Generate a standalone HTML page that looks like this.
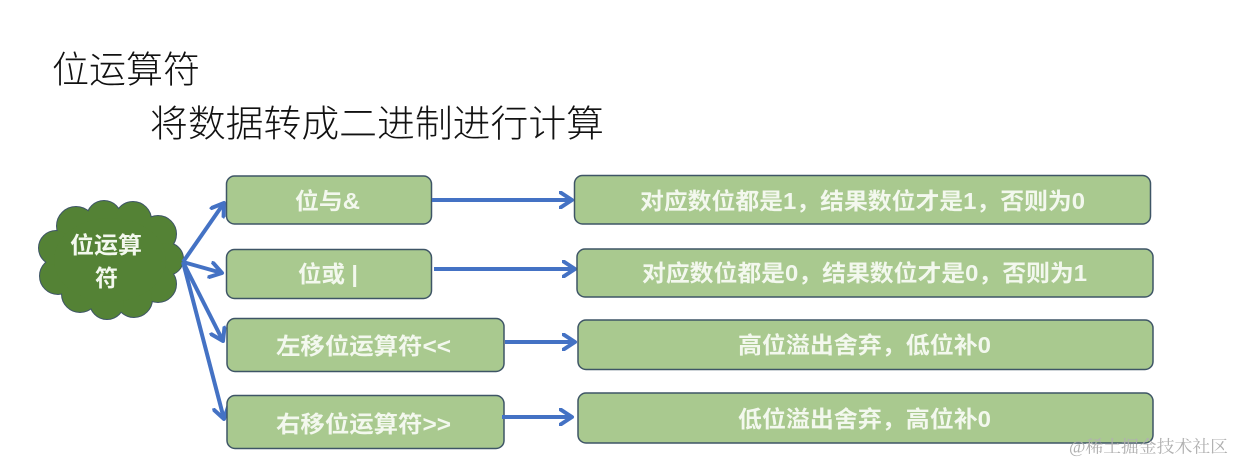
<!DOCTYPE html>
<html>
<head>
<meta charset="utf-8">
<style>
  html,body{margin:0;padding:0;background:#fff;}
  body{width:1235px;height:463px;overflow:hidden;}
  svg{display:block;}
  .t{font-family:"Liberation Sans","Noto Sans CJK SC",sans-serif;}
  .bx{fill:#A9C98F;stroke:#3E5566;stroke-width:1.5;}
  .bt{font-family:"Liberation Sans","Noto Sans CJK SC",sans-serif;font-size:23px;font-weight:bold;fill:#F3F8EE;dominant-baseline:central;}
  .ar{stroke:#4472C4;stroke-width:4;fill:none;}
</style>
</head>
<body>
<svg width="1235" height="463" viewBox="0 0 1235 463" xmlns="http://www.w3.org/2000/svg">
  <defs>
    <marker id="ah" viewBox="0 0 16 18" refX="13" refY="9" markerWidth="16" markerHeight="18" markerUnits="userSpaceOnUse" orient="auto">
      <path d="M1.5,1.5 L13,9 L1.5,16.5" fill="none" stroke="#4472C4" stroke-width="4" stroke-linecap="round" stroke-linejoin="round"/>
    </marker>
  </defs>

  <!-- Titles -->
  <text class="t" x="52" y="70" font-size="37" font-weight="300" fill="#111" dominant-baseline="central" textLength="148" lengthAdjust="spacingAndGlyphs">位运算符</text>
  <text class="t" x="150" y="124" font-size="37" font-weight="300" fill="#111" dominant-baseline="central" textLength="454" lengthAdjust="spacingAndGlyphs">将数据转成二进制进行计算</text>

  <!-- Cloud -->
  <g stroke="#3E5566" stroke-width="2" fill="#548235">
    <circle cx="76" cy="226" r="19"/>
    <circle cx="104" cy="218" r="17"/>
    <circle cx="133" cy="220" r="18"/>
    <circle cx="158" cy="234" r="18"/>
    <circle cx="167" cy="259" r="16"/>
    <circle cx="158" cy="284" r="18"/>
    <circle cx="134" cy="299" r="18"/>
    <circle cx="107" cy="302" r="17"/>
    <circle cx="80" cy="294" r="18"/>
    <circle cx="58" cy="276" r="18"/>
    <circle cx="56" cy="248" r="17"/>
  </g>
  <g fill="#548235">
    <circle cx="76" cy="226" r="19"/>
    <circle cx="104" cy="218" r="17"/>
    <circle cx="133" cy="220" r="18"/>
    <circle cx="158" cy="234" r="18"/>
    <circle cx="167" cy="259" r="16"/>
    <circle cx="158" cy="284" r="18"/>
    <circle cx="134" cy="299" r="18"/>
    <circle cx="107" cy="302" r="17"/>
    <circle cx="80" cy="294" r="18"/>
    <circle cx="58" cy="276" r="18"/>
    <circle cx="56" cy="248" r="17"/>
    <ellipse cx="110" cy="260" rx="56" ry="42"/>
  </g>
  <text class="bt" x="70" y="245" textLength="72" lengthAdjust="spacingAndGlyphs">位运算</text>
  <text class="bt" x="95" y="278">符</text>

  <!-- Diagonal arrows -->
  <line class="ar" x1="183" y1="262" x2="224" y2="203" marker-end="url(#ah)"/>
  <line class="ar" x1="183" y1="262" x2="222" y2="273" marker-end="url(#ah)"/>
  <line class="ar" x1="183" y1="262" x2="223" y2="341" marker-end="url(#ah)"/>
  <line class="ar" x1="183" y1="262" x2="224" y2="419" marker-end="url(#ah)"/>

  <!-- Left boxes -->
  <rect class="bx" x="226.5" y="176" width="205" height="48" rx="8"/>
  <text class="bt" x="295" y="201" textLength="65" lengthAdjust="spacingAndGlyphs">位与&amp;</text>

  <rect class="bx" x="226.5" y="249.5" width="205" height="49" rx="8"/>
  <text class="bt" x="298" y="274" textLength="60" lengthAdjust="spacingAndGlyphs">位或 |</text>

  <rect class="bx" x="227" y="318.5" width="277" height="53" rx="8"/>
  <text class="bt" x="276" y="346" textLength="175" lengthAdjust="spacingAndGlyphs">左移位运算符&lt;&lt;</text>

  <rect class="bx" x="227" y="395.5" width="277" height="53" rx="8"/>
  <text class="bt" x="276" y="424" textLength="175" lengthAdjust="spacingAndGlyphs">右移位运算符&gt;&gt;</text>

  <!-- Horizontal arrows -->
  <line class="ar" x1="432" y1="200" x2="572" y2="200" marker-end="url(#ah)"/>
  <line class="ar" x1="434" y1="269" x2="575" y2="269" marker-end="url(#ah)"/>
  <line class="ar" x1="505" y1="342" x2="575" y2="342" marker-end="url(#ah)"/>
  <line class="ar" x1="502" y1="417" x2="572" y2="417" marker-end="url(#ah)"/>

  <!-- Right boxes -->
  <rect class="bx" x="574.5" y="175.5" width="576" height="48.5" rx="8"/>
  <text class="bt" x="640" y="201" textLength="445" lengthAdjust="spacingAndGlyphs">对应数位都是1，结果数位才是1，否则为0</text>

  <rect class="bx" x="577" y="249" width="576" height="48" rx="8"/>
  <text class="bt" x="642" y="273" textLength="445" lengthAdjust="spacingAndGlyphs">对应数位都是0，结果数位才是0，否则为1</text>

  <rect class="bx" x="578" y="320" width="575" height="49.5" rx="8"/>
  <text class="bt" x="738" y="345" textLength="253" lengthAdjust="spacingAndGlyphs">高位溢出舍弃，低位补0</text>

  <rect class="bx" x="578" y="393" width="575" height="50" rx="8"/>
  <text class="bt" x="738" y="419" textLength="253" lengthAdjust="spacingAndGlyphs">低位溢出舍弃，高位补0</text>

  <!-- Watermark -->
  <text x="1069" y="447" font-family="'Liberation Serif','Noto Serif CJK SC',serif" font-size="17" fill="#B0B0B0" dominant-baseline="central" textLength="159" lengthAdjust="spacingAndGlyphs">@稀土掘金技术社区</text>
</svg>
</body>
</html>
